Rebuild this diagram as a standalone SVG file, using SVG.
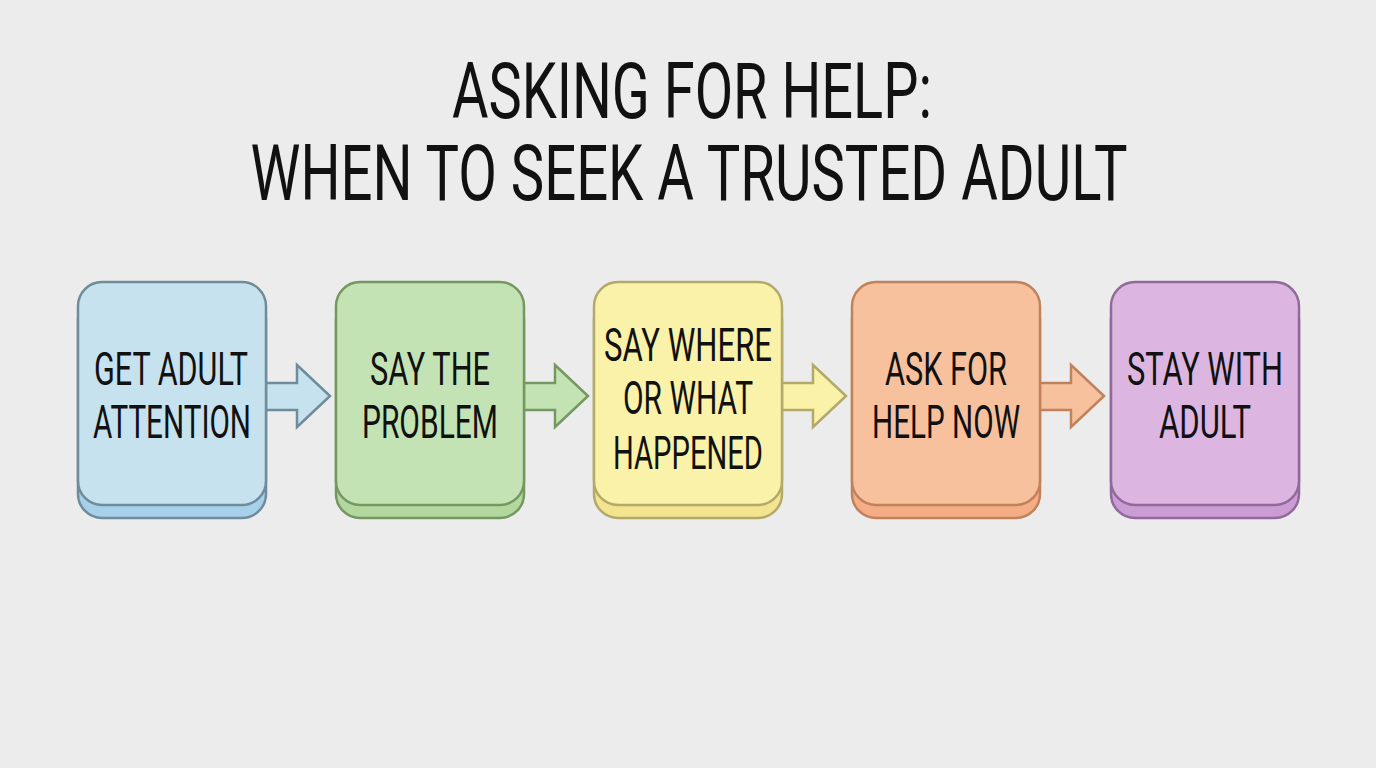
<svg xmlns="http://www.w3.org/2000/svg" width="1376" height="768" viewBox="0 0 1376 768">
<style>
.t{font-family:"Roboto","Liberation Sans",sans-serif;font-weight:400;fill:#111;text-anchor:middle}
.ttl{font-size:78px}
.lbl{font-size:46px}
.b1{fill:#c6e2ef;stroke:#6f8c9b}.b1s{fill:#a7d0ea;stroke:#6f8c9b}
.b2{fill:#c4e3b5;stroke:#74985f}.b2s{fill:#b2d8a0;stroke:#74985f}
.b3{fill:#faf2a8;stroke:#b3a96a}.b3s{fill:#f4e490;stroke:#b3a96a}
.b4{fill:#f8c19e;stroke:#c0825c}.b4s{fill:#f4ad85;stroke:#c0825c}
.b5{fill:#dcb6e0;stroke:#91699a}.b5s{fill:#cc9dd4;stroke:#91699a}
rect,path{stroke-width:2.5}
</style>
<rect width="1376" height="768" fill="#ececec"/>
<g id="title">
<text class="t ttl" x="692" y="118" textLength="480" lengthAdjust="spacingAndGlyphs">ASKING FOR HELP:</text>
<text class="t ttl" x="689" y="200" textLength="877" lengthAdjust="spacingAndGlyphs">WHEN TO SEEK A TRUSTED ADULT</text>
</g>
<g id="connectors">
<path class="b1" d="M262 383 H297 V365 L330 396 L297 427 V410 H262 Z"/>
<path class="b2" d="M520 383 H555 V365 L588 396 L555 427 V410 H520 Z"/>
<path class="b3" d="M778 383 H813 V365 L846 396 L813 427 V410 H778 Z"/>
<path class="b4" d="M1036 383 H1071 V365 L1104 396 L1071 427 V410 H1036 Z"/>
</g>
<g id="n1">
<rect class="b1s" x="78" y="296" width="188" height="222" rx="24"/>
<rect class="b1" x="78" y="282" width="188" height="223" rx="24"/>
<text class="t lbl" x="171" y="385" textLength="154" lengthAdjust="spacingAndGlyphs">GET ADULT</text>
<text class="t lbl" x="172" y="438" textLength="158" lengthAdjust="spacingAndGlyphs">ATTENTION</text>
</g>
<g id="n2">
<rect class="b2s" x="336" y="296" width="188" height="222" rx="24"/>
<rect class="b2" x="336" y="282" width="188" height="223" rx="24"/>
<text class="t lbl" x="430" y="385" textLength="120" lengthAdjust="spacingAndGlyphs">SAY THE</text>
<text class="t lbl" x="430" y="438" textLength="136" lengthAdjust="spacingAndGlyphs">PROBLEM</text>
</g>
<g id="n3">
<rect class="b3s" x="594" y="296" width="188" height="222" rx="24"/>
<rect class="b3" x="594" y="282" width="188" height="223" rx="24"/>
<text class="t lbl" x="688" y="361" textLength="168" lengthAdjust="spacingAndGlyphs">SAY WHERE</text>
<text class="t lbl" x="688" y="414" textLength="130" lengthAdjust="spacingAndGlyphs">OR WHAT</text>
<text class="t lbl" x="688" y="469" textLength="150" lengthAdjust="spacingAndGlyphs">HAPPENED</text>
</g>
<g id="n4">
<rect class="b4s" x="852" y="296" width="188" height="222" rx="24"/>
<rect class="b4" x="852" y="282" width="188" height="223" rx="24"/>
<text class="t lbl" x="946" y="385" textLength="122" lengthAdjust="spacingAndGlyphs">ASK FOR</text>
<text class="t lbl" x="946" y="438" textLength="148" lengthAdjust="spacingAndGlyphs">HELP NOW</text>
</g>
<g id="n5">
<rect class="b5s" x="1111" y="296" width="188" height="222" rx="24"/>
<rect class="b5" x="1111" y="282" width="188" height="223" rx="24"/>
<text class="t lbl" x="1205" y="385" textLength="156" lengthAdjust="spacingAndGlyphs">STAY WITH</text>
<text class="t lbl" x="1205" y="438" textLength="92" lengthAdjust="spacingAndGlyphs">ADULT</text>
</g>
</svg>
